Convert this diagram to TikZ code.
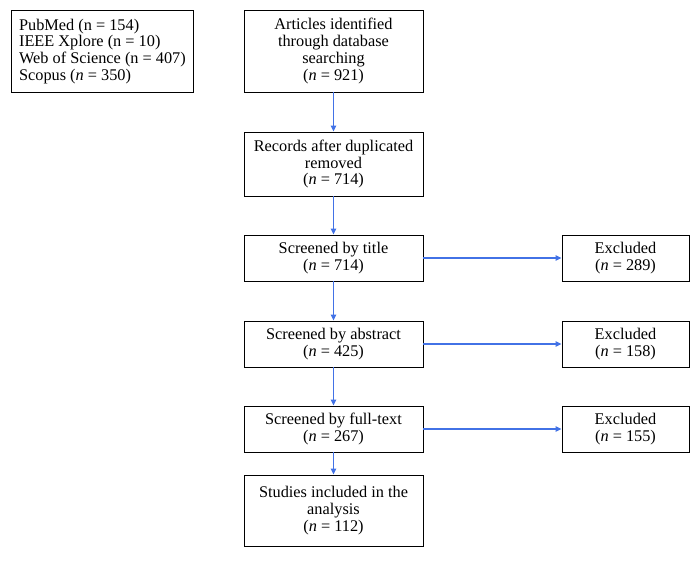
\documentclass[tikz,border=0pt]{standalone}
\usepackage{fontspec}
\setmainfont{Liberation Serif}
\usetikzlibrary{arrows.meta}
\definecolor{arrblue}{RGB}{66,114,230}
\tikzset{
  box/.style={draw=black, line width=0.9pt, rectangle, align=center, inner sep=1pt, font=\fontsize{16.3}{16.8}\selectfont},
  conn/.style={draw=arrblue, line width=1.3pt, -{Triangle[length=6pt,width=5.5pt]}}
}
\begin{document}
\begin{tikzpicture}[x=1pt,y=-1pt]
\useasboundingbox (0,0) rectangle (700,566);
\node[box, align=left, minimum width=182pt, minimum height=82pt, anchor=north west] (db) at (11,10) {PubMed (n = 154)\\IEEE Xplore (n = 10)\\Web of Science (n = 407)\\Scopus (\textit{n} = 350)};
\node[box, minimum width=179pt, minimum height=82pt] (art) at (333.5,51) {Articles identified\\through database\\searching\\(\textit{n} = 921)};
\node[box, minimum width=179pt, minimum height=64pt] (rec) at (333.5,164) {Records after duplicated\\removed\\(\textit{n} = 714)};
\node[box, minimum width=179pt, minimum height=46pt] (tit) at (333.5,258) {Screened by title\\(\textit{n} = 714)};
\node[box, minimum width=179pt, minimum height=46pt] (abs) at (333.5,344) {Screened by abstract\\(\textit{n} = 425)};
\node[box, minimum width=179pt, minimum height=46pt] (ful) at (333.5,429) {Screened by full-text\\(\textit{n} = 267)};
\node[box, minimum width=179pt, minimum height=71pt] (inc) at (333.5,510.5) {Studies included in the\\analysis\\(\textit{n} = 112)};
\node[box, minimum width=127pt, minimum height=46pt] (ex1) at (625.5,258) {Excluded\\(\textit{n} = 289)};
\node[box, minimum width=127pt, minimum height=46pt] (ex2) at (625.5,344) {Excluded\\(\textit{n} = 158)};
\node[box, minimum width=127pt, minimum height=46pt] (ex3) at (625.5,429) {Excluded\\(\textit{n} = 155)};
\draw[conn] (art) -- (rec);
\draw[conn] (rec) -- (tit);
\draw[conn] (tit) -- (abs);
\draw[conn] (abs) -- (ful);
\draw[conn] (ful) -- (inc);
\draw[conn] (tit) -- (ex1);
\draw[conn] (abs) -- (ex2);
\draw[conn] (ful) -- (ex3);
\end{tikzpicture}
\end{document}
